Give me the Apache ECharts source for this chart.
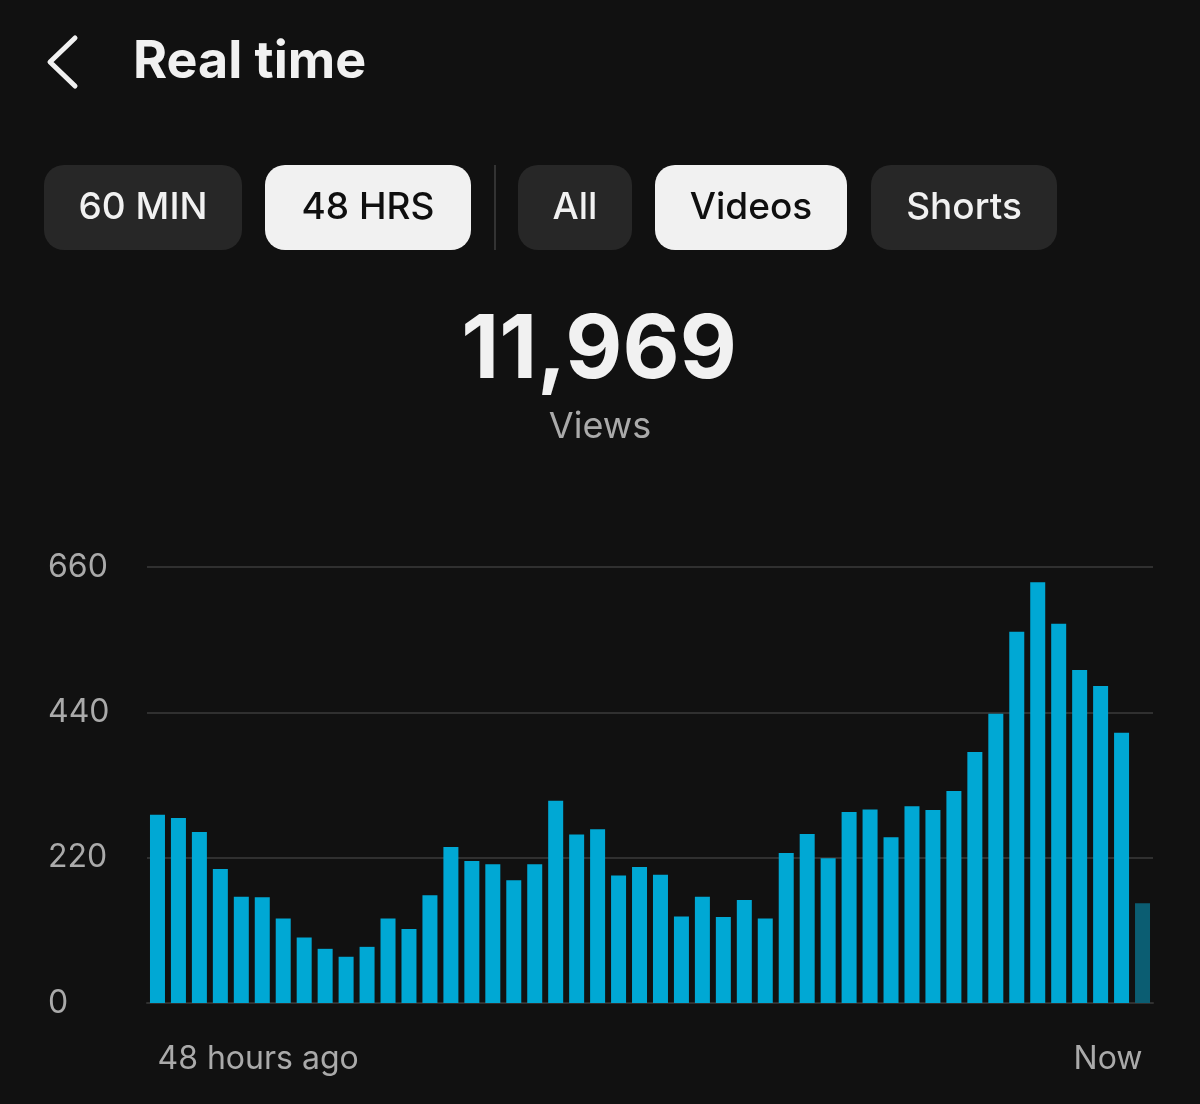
<!DOCTYPE html>
<html>
<head>
<meta charset="utf-8">
<script src="https://cdn.jsdelivr.net/npm/echarts@6/dist/echarts.min.js"></script>
<style>
  html, body { margin: 0; padding: 0; background: #111111; }
  #main { width: 1200px; height: 1104px; }
</style>
</head>
<body>
<div id="main"></div>
<script>
// hours before now, one bar per hour
var hoursAgo = [48, 47, 46, 45, 44, 43, 42, 41, 40, 39, 38, 37, 36, 35, 34, 33,
  32, 31, 30, 29, 28, 27, 26, 25, 24, 23, 22, 21, 20, 19, 18, 17,
  16, 15, 14, 13, 12, 11, 10, 9, 8, 7, 6, 5, 4, 3, 2, 1]
// views per hour
var views = [285, 280, 259, 203, 161, 160, 128, 99, 82, 70, 85, 128, 112, 163, 236, 215,
  210, 186, 210, 306, 255, 263, 193, 206, 194, 131, 161, 130, 156, 128, 227, 256,
  219, 289, 293, 251, 298, 292, 321, 380, 438, 562, 637, 574, 504, 480, 409, 151]
var yTicks = [0, 220, 440, 660]
var xTickLabels = ['48 hours ago', 'Now']
var totalViews = '11,969'
var rangeTabs = ['60 MIN', '48 HRS']
var typeTabs = ['All', 'Videos', 'Shorts']

var FONT = 'Inter, Roboto, "Noto Sans", sans-serif'

var chart = echarts.init(document.getElementById('main'), null, { renderer: 'canvas' })

// pill buttons in the header
function pill (x, w, text, active) {
  return {
    type: 'group',
    children: [
      {
        type: 'rect',
        shape: { x: x, y: 165, width: w, height: 85, r: 20 },
        style: { fill: active ? '#f1f1f1' : '#272727' }
      },
      {
        type: 'text',
        style: {
          x: x + w / 2, y: 208, text: text,
          fill: active ? '#0f0f0f' : '#f1f1f1',
          font: '500 37px ' + FONT,
          align: 'center', verticalAlign: 'middle'
        }
      }
    ]
  }
}

var barData = views.map(function (v, i) {
  if (i === views.length - 1) {
    return { value: v, itemStyle: { color: '#0b5d72' } }
  }
  return v
})

var option = {
  backgroundColor: '#111111',
  animation: false,
  grid: { left: 147, right: 47, top: 567, bottom: 101 },
  xAxis: {
    type: 'category',
    data: hoursAgo,
    axisLine: { show: true, lineStyle: { color: '#303030', width: 2 } },
    axisTick: { show: false },
    axisLabel: {
      interval: 0,
      margin: 40,
      color: '#aaaaaa',
      fontSize: 32,
      fontFamily: FONT,
      alignMinLabel: 'left',
      alignMaxLabel: 'right',
      formatter: function (val, idx) {
        if (idx === 0) return xTickLabels[0]
        if (idx === hoursAgo.length - 1) return xTickLabels[1]
        return ''
      }
    }
  },
  yAxis: {
    type: 'value',
    min: yTicks[0],
    max: yTicks[yTicks.length - 1],
    interval: yTicks[1] - yTicks[0],
    axisLine: { show: false },
    axisTick: { show: false },
    splitLine: { lineStyle: { color: '#303030', width: 2 } },
    axisLabel: {
      align: 'left',
      margin: 99,
      color: '#aaaaaa',
      fontSize: 32,
      fontFamily: FONT,
      padding: [4, 0, 0, 0]
    }
  },
  series: [{
    type: 'bar',
    data: barData,
    barWidth: 15,
    itemStyle: { color: '#00a8d4' }
  }],
  graphic: [
    {
      type: 'polyline',
      shape: { points: [[75, 38], [50, 62], [75, 86]] },
      style: { stroke: '#f1f1f1', lineWidth: 5, lineCap: 'round', lineJoin: 'round', fill: null }
    },
    {
      type: 'text',
      style: {
        x: 133, y: 62, text: 'Real time',
        fill: '#f1f1f1', font: 'bold 52px ' + FONT,
        verticalAlign: 'middle'
      }
    },
    pill(44, 198, rangeTabs[0], false),
    pill(265, 206, rangeTabs[1], true),
    {
      type: 'rect',
      shape: { x: 494, y: 165, width: 2, height: 85 },
      style: { fill: '#333333' }
    },
    pill(518, 114, typeTabs[0], false),
    pill(655, 192, typeTabs[1], true),
    pill(871, 186, typeTabs[2], false),
    {
      type: 'text',
      style: {
        x: 599, y: 352, text: totalViews,
        fill: '#f1f1f1', font: 'bold 88px ' + FONT,
        align: 'center', verticalAlign: 'middle'
      }
    },
    {
      type: 'text',
      style: {
        x: 600, y: 427, text: 'Views',
        fill: '#aaaaaa', font: '36px ' + FONT,
        align: 'center', verticalAlign: 'middle'
      }
    }
  ]
}

chart.setOption(option)
</script>
</body>
</html>
